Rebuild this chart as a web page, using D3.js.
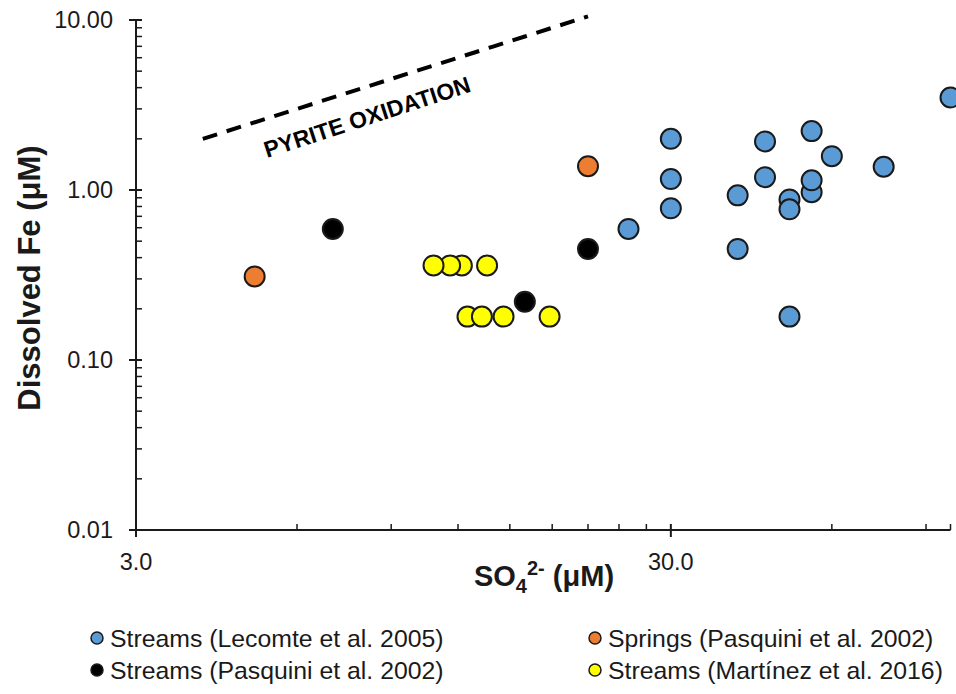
<!DOCTYPE html>
<html>
<head>
<meta charset="utf-8">
<script src="https://cdn.jsdelivr.net/npm/d3@7"></script>
<style>
  html, body { margin: 0; padding: 0; background: #fff; }
  svg { display: block; font-family: "Liberation Sans", Arial, sans-serif; }
</style>
</head>
<body>
<svg id="chart" width="956" height="694"></svg>
<script>
// ---- data ----
const lecomteSO4 = [25, 30, 30, 30, 40, 40, 45, 45, 50, 50, 50, 55, 55, 55, 60, 75, 100];
const lecomteFe  = [0.59, 2.0, 1.16, 0.78, 0.93, 0.45, 1.93, 1.19, 0.88, 0.77, 0.18, 2.22, 0.97, 1.14, 1.58, 1.37, 3.5];

const springsSO4 = [5, 21];
const springsFe  = [0.31, 1.38];

const pasquiniSO4 = [7, 16, 21];
const pasquiniFe  = [0.59, 0.22, 0.45];

const martinezSO4 = [13.6, 12.2, 11.6, 10.8, 12.5, 13.3, 14.6, 17.8];
const martinezFe  = [0.36, 0.36, 0.36, 0.36, 0.18, 0.18, 0.18, 0.18];

const pyriteSO4 = [4, 6, 8, 10, 12, 14, 16, 18, 21];
const pyriteFe  = [2, 3, 4, 5, 6, 7, 8, 9, 10.5];

const xMajorTicks = [3, 30];
const xMajorLabels = ["3.0", "30.0"];
const xMinorTicks = [6, 9, 12, 15, 18, 21, 24, 27, 60, 90, 100];
const yMajorTicks = [0.01, 0.1, 1, 10];
const yMajorLabels = ["0.01", "0.10", "1.00", "10.00"];
const yMinorTicks = [];
[0.01, 0.1, 1].forEach(d => { for (let k = 2; k <= 9; k++) yMinorTicks.push(+(d * k).toPrecision(3)); });

const seriesNames = ["Streams (Lecomte et al. 2005)", "Springs (Pasquini et al. 2002)",
                     "Streams (Pasquini et al. 2002)", "Streams (Martínez et al. 2016)"];
const seriesColors = ["#5b9bd5", "#ed7d31", "#000000", "#ffff00"];

// ---- layout ----
const svg = d3.select("#chart");
const x = d3.scaleLog().domain([3, 100]).range([136, 950.5]);
const y = d3.scaleLog().domain([0.01, 10]).range([530, 20]);
const ink = "#1a1a1a";

// axes
const gx = svg.append("g").attr("transform", "translate(0,530)");
gx.append("line").attr("x1", x(3)).attr("x2", x(100)).attr("stroke", ink).attr("stroke-width", 2);
gx.selectAll(".xmin").data(xMinorTicks).join("line")
  .attr("x1", d => x(d)).attr("x2", d => x(d)).attr("y1", 0).attr("y2", -6)
  .attr("stroke", ink).attr("stroke-width", 1.5);
gx.selectAll(".xmaj").data(xMajorTicks).join("line")
  .attr("x1", d => x(d)).attr("x2", d => x(d)).attr("y1", -6).attr("y2", 7)
  .attr("stroke", ink).attr("stroke-width", 2);
gx.selectAll(".xlab").data(xMajorTicks).join("text")
  .attr("x", d => x(d)).attr("y", 40).attr("text-anchor", "middle")
  .attr("font-size", 23.5).attr("fill", ink)
  .text((d, i) => xMajorLabels[i]);

const gy = svg.append("g").attr("transform", "translate(136,0)");
gy.append("line").attr("y1", y(0.01)).attr("y2", y(10)).attr("stroke", ink).attr("stroke-width", 2);
gy.selectAll(".ymin").data(yMinorTicks).join("line")
  .attr("y1", d => y(d)).attr("y2", d => y(d)).attr("x1", 0).attr("x2", 6)
  .attr("stroke", ink).attr("stroke-width", 1.5);
gy.selectAll(".ymaj").data(yMajorTicks).join("line")
  .attr("y1", d => y(d)).attr("y2", d => y(d)).attr("x1", -7).attr("x2", 6)
  .attr("stroke", ink).attr("stroke-width", 2);
gy.selectAll(".ylab").data(yMajorTicks).join("text")
  .attr("x", -23).attr("y", d => y(d)).attr("dy", "0.36em").attr("text-anchor", "end")
  .attr("font-size", 23.5).attr("fill", ink)
  .text((d, i) => yMajorLabels[i]);

// axis titles
svg.append("text")
  .attr("transform", "translate(40,278) rotate(-90)")
  .attr("text-anchor", "middle").attr("font-size", 31).attr("font-weight", "bold").attr("fill", ink)
  .text("Dissolved Fe (μM)");

const xt = svg.append("text").attr("x", 544).attr("y", 586).attr("text-anchor", "middle")
  .attr("font-size", 29).attr("font-weight", "bold").attr("fill", ink);
xt.append("tspan").text("SO");
xt.append("tspan").attr("font-size", 20).attr("dy", 7).text("4");
xt.append("tspan").attr("font-size", 20).attr("dy", -18).text("2-");
xt.append("tspan").attr("dy", 11).text(" (μM)");

// pyrite oxidation line
const line = d3.line().x(d => x(d[0])).y(d => y(d[1]));
svg.append("path")
  .datum(pyriteSO4.map((s, i) => [s, pyriteFe[i]]))
  .attr("d", line).attr("fill", "none").attr("stroke", "#000")
  .attr("stroke-width", 4).attr("stroke-dasharray", "15 10");

svg.append("text")
  .attr("transform", "translate(267,158) rotate(-18)")
  .attr("font-size", 23).attr("font-weight", "bold").attr("fill", "#000")
  .text("PYRITE OXIDATION");

// points
const allSeries = [
  [lecomteSO4, lecomteFe],
  [springsSO4, springsFe],
  [pasquiniSO4, pasquiniFe],
  [martinezSO4, martinezFe]
];
allSeries.forEach(([xs, ys], si) => {
  svg.append("g").selectAll("circle")
    .data(xs.map((v, i) => [v, ys[i]]))
    .join("circle")
    .attr("cx", d => x(d[0])).attr("cy", d => y(d[1])).attr("r", 10)
    .attr("fill", seriesColors[si]).attr("stroke", ink).attr("stroke-width", 2);
});

// legend
const legendPos = [[97, 638], [595, 638], [97, 670], [595, 670]];
const lg = svg.append("g").selectAll("g").data(seriesNames).join("g")
  .attr("transform", (d, i) => `translate(${legendPos[i][0]},${legendPos[i][1]})`);
lg.append("circle").attr("r", 6).attr("fill", (d, i) => seriesColors[i])
  .attr("stroke", ink).attr("stroke-width", 1.5);
lg.append("text").attr("x", 13).attr("dy", "0.36em").attr("font-size", 24.8).attr("fill", ink)
  .text(d => d);
</script>
</body>
</html>
